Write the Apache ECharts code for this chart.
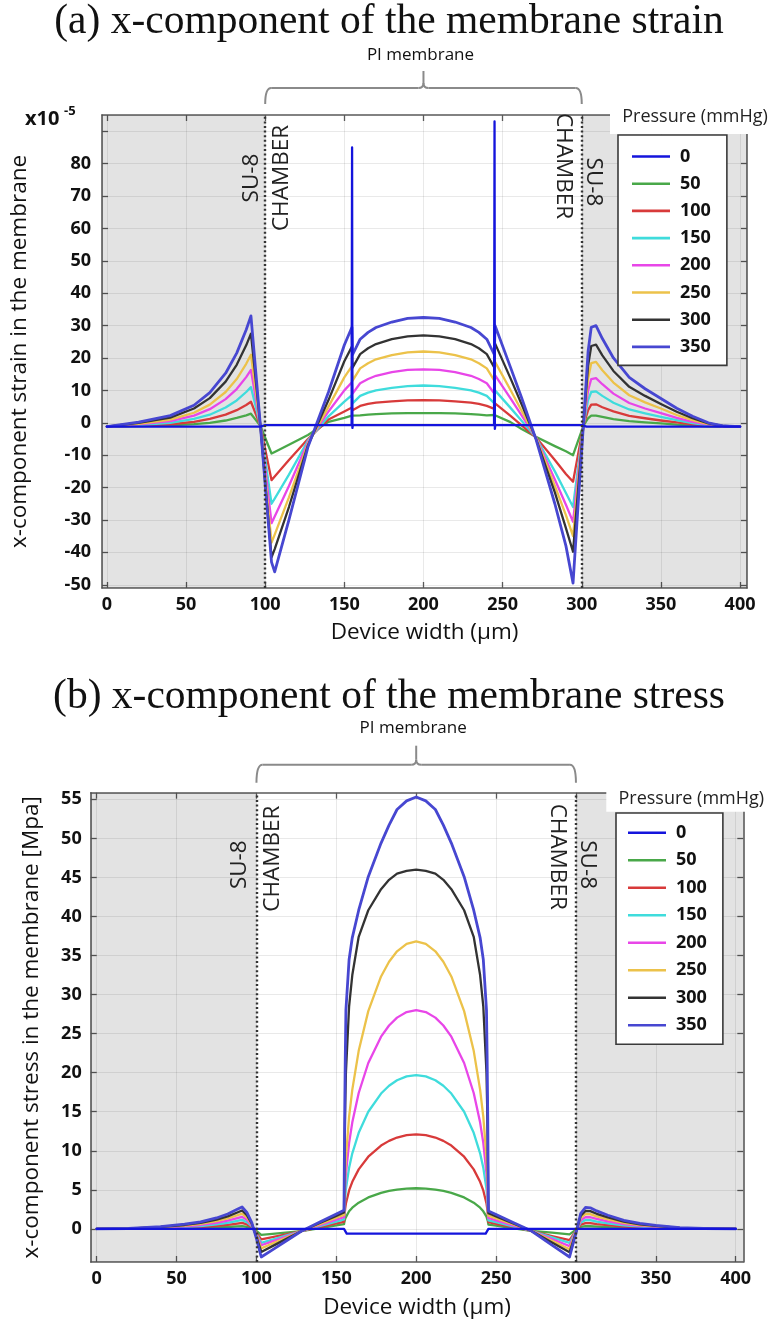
<!DOCTYPE html>
<html><head><meta charset="utf-8">
<script src="https://cdn.jsdelivr.net/npm/echarts@6/dist/echarts.min.js"></script>
<style>
html,body{margin:0;padding:0;background:#fff;}
#a{position:absolute;left:0;top:0;width:776px;height:655px;}
#b{position:absolute;left:0;top:655px;width:776px;height:669px;}
</style>
</head><body><div id="a"></div><div id="b"></div>
<script>
const pressureLabels = ['0','50','100','150','200','250','300','350'];
const lineColors = ['#1414dc','#49a849','#d83a3a','#3fdcdc','#e846e8','#ecc24a','#333333','#4747d1'];
const chamberEdges = [100, 300];
const xTicks = [0,50,100,150,200,250,300,350,400];
const strainTicks = [-50,-40,-30,-20,-10,0,10,20,30,40,50,60,70,80,90];
const strainLabels = [-50,-40,-30,-20,-10,0,10,20,30,40,50,60,70,80];
const stressTicks = [0,5,10,15,20,25,30,35,40,45,50,55];

// ---- (a) strain, x10^-5 ----
const strainX = [0,20,40,55,65,75,82,88,91,94,97,104,106,115,127,140,150,154.8,155.2,160,165,170,180,190,200,210,220,230,235,240,244.8,245.2,255,262,271,283,290,294.5,298,301,304,306,309,313,320,330,340,350,360,370,380,390,400];
const strainX0 = [0,97,100,154.6,154.9,155.1,155.4,244.6,244.9,245.1,245.4,300,303,400];
const strain0 = [-1.2,-1.2,-0.7,-0.7,85,-1.6,-0.7,-0.7,93,-1.9,-0.7,-0.7,-1.2,-1.2];
const strain50 = [-1.2,-1.0,-0.8,-0.4,0,0.7,1.5,2.3,2.8,0.9, -1,-9.5,-9.0,-6.8,-3.8,0.3,1.5,2.2,1.8,2.3, 2.5,2.7,2.9,3.0,3.0,3.0,2.9,2.7,2.5,2.3, 2.4,3.0,0.2,-1.9,-4.3,-7.2,-8.8,-10,-5.1,-1, 1.4,2.2,2.2,1.8,1.1,0.5,0.1,-0.2,-0.6,-0.85, -1.1,-1.2,-1.2];
const strain100 = [-1.2,-0.9,-0.45,0.3,1.2,2.5,3.9,5.5,6.5,2.8, -1,-17.7,-16.6,-11.5,-5,1,3.5,4.7,3.9,5.2, 5.8,6.2,6.6,6.9,7,6.9,6.6,6.2,5.8,5.2, 4.3,6,2.1,-0.8,-4.5,-11.5,-15.8,-18.2,-8.9,-1, 3.9,5.6,5.7,4.8,3.5,2.1,1.4,0.7,0.1,-0.5, -0.9,-1.2,-1.2];
const strain150 = [-1.2,-0.7,0,1.2,2.5,4.7,6.9,9.5,11,5, -1,-25,-23.4,-16,-5.5,2,6.5,8.5,6,8.3, 9.3,10,10.8,11.3,11.5,11.3,10.8,10,9.3,8.3, 6,10,4.6,0.6,-4.5,-15,-21.7,-26,-12.5,-1, 7.0,9.5,9.7,8.3,6.2,4.1,2.9,1.8,0.8,-0.1, -0.8,-1.1,-1.2];
const strain200 = [-1.2,-0.5,0.5,2.2,4.2,7.3,10.4,14.1,16.3,7.7, -1,-31,-28.9,-19.5,-6,3.5,10,12.5,9,12.2, 13.5,14.5,15.6,16.3,16.5,16.3,15.6,14.5,13.5,12.2, 9,14.7,7.5,2.3,-4.5,-17.5,-25.3,-30.6,-14.6,-1, 10.0,13.5,13.8,11.9,9.0,6.1,4.4,3.0,1.5,0.3, -0.6,-1.1,-1.2];
const strain250 = [-1.2,-0.3,1.0,3.1,5.6,9.5,13.5,18.2,21,10, -1,-37,-34.5,-23,-6.5,5,14,17.5,13,16.8, 18.4,19.6,20.9,21.7,22,21.7,20.9,19.6,18.4,16.8, 13,18.8,10.1,3.7,-4.6,-19.5,-28.5,-35,-16.6,-1, 13.6,18.4,18.8,16.2,12.4,8.5,6.3,4.4,2.4,0.8, -0.4,-1.1,-1.2];
const strain300 = [-1.2,-0.05,1.6,4.4,7.6,12.7,17.9,23.9,27.5,13.3, -1,-41.5,-39,-26,-7,7,19,23.5,17,21.2, 23,24.3,25.8,26.7,27,26.7,25.8,24.3,23,21.2, 17,24.5,13.7,5.7,-4.8,-21.5,-32.5,-39.8,-18.8,-1, 17.6,23.7,24.1,20.8,16.0,11.1,8.3,5.8,3.4,1.4, -0.2,-1.0,-1.2];
const strain350 = [-1.2,0.2,2.2,5.4,9.3,15.3,21.5,28.7,33,16, -1,-43,-46,-30,-7.5,9.5,24,29.5,21,25.8, 27.9,29.4,31.1,32.2,32.5,32.2,31.1,29.4,27.9,25.8, 21,30,17.1,7.7,-5,-25,-38,-49.5,-23,-1, 22,29.5,30,26,20,14,10.5,7.5,4.5,2, 0,-1,-1.2];

// ---- (b) stress, MPa ----
const stressX = [0,20,40,55,65,75,82,88,91,94,97,100,103,110,120,128,140,150,154.8,155.2,155.6,156,158,160,164,170,178,183,188,194,200,206,212,217,222,230,236,240,242,244,244.4,244.8,245.2,250,260,272,285,296,300,303,306,309,313,320,330,340,350,365,380,400];
const stressX0 = [0,154.8,156.5,243.5,245.2,400];
const stress0 = [0,0,-0.6,-0.6,0,0];
const stress50 = [0,0.01,0.04,0.08,0.11,0.18,0.24,0.31,0.35,0.26, 0.11,-0.27,-0.76,-0.63,-0.45,-0.3,0.1,0.44,0.6, 1.03,1.35,1.57,2.25,2.71,3.36,4.03,4.61,4.86,5.03,5.16,5.2, 5.16,5.03,4.86,4.61,4.03,3.36,2.71,2.25,1.57,1.35,1.03, 0.55,0.41,0.11,-0.25,-0.49,-0.7,-0.1, 0.25,0.34,0.34,0.29,0.22,0.14,0.09,0.06,0.02,0.01,0];
const stress100 = [0,0.01,0.08,0.16,0.24,0.38,0.51,0.68,0.76,0.57, 0.23,-0.47,-1.35,-1.06,-0.64,-0.3,0.24,0.69,0.9, 1.95,2.71,3.25,4.92,6.03,7.62,9.24,10.67,11.27,11.7,12.0,12.1, 12.0,11.7,11.27,10.67,9.24,7.62,6.03,4.92,3.25,2.71,1.95, 0.85,0.65,0.25,-0.25,-0.92,-1.45,-0.22, 0.54,0.74,0.73,0.62,0.47,0.3,0.19,0.12,0.04,0.01,0];
const stress150 = [0,0.02,0.12,0.25,0.37,0.57,0.78,1.03,1.15,0.86, 0.35,-0.63,-1.8,-1.38,-0.78,-0.3,0.37,0.93,1.2, 2.94,4.2,5.09,7.84,9.67,12.3,15.0,17.33,18.33,19.03,19.53,19.7, 19.53,19.03,18.33,17.33,15.0,12.3,9.67,7.84,5.09,4.2,2.94, 1.1,0.86,0.36,-0.25,-1.09,-1.8,-0.27, 0.82,1.13,1.11,0.94,0.72,0.45,0.29,0.18,0.06,0.02,0];
const stress200 = [0,0.03,0.17,0.33,0.5,0.77,1.05,1.38,1.54,1.16, 0.47,-0.74,-2.1,-1.6,-0.88,-0.3,0.51,1.18,1.5, 3.99,5.79,7.07,11.01,13.64,17.4,21.24,24.61,26.04,27.05,27.76,28, 27.76,27.05,26.04,24.61,21.24,17.4,13.64,11.01,7.07,5.79,3.99, 1.4,1.1,0.49,-0.25,-1.3,-2.2,-0.33, 1.1,1.51,1.49,1.27,0.96,0.6,0.39,0.25,0.08,0.03,0];
const stress250 = [0,0.035,0.21,0.42,0.63,0.98,1.33,1.75,1.96,1.47, 0.6,-0.88,-2.5,-1.88,-1.0,-0.3,0.64,1.42,1.8, 5.09,7.47,9.15,14.37,17.83,22.8,27.88,32.32,34.21,35.54,36.49,36.8, 36.49,35.54,34.21,32.32,27.88,22.8,17.83,14.37,9.15,7.47,5.09, 1.7,1.35,0.65,-0.25,-1.52,-2.6,-0.39, 1.4,1.93,1.89,1.61,1.23,0.77,0.49,0.32,0.1,0.03,0];
const stress300 = [0,0.04,0.25,0.5,0.76,1.18,1.6,2.1,2.35,1.76, 0.71,-1.03,-2.95,-2.21,-1.15,-0.3,0.78,1.67,2.1, 10,16,20,28.5,32.5,37.4,40.8,43.5,44.7,45.5,45.85,46, 45.85,45.5,44.7,43.5,40.8,37.4,32.5,28.5,20,16,10, 2.0,1.6,0.76,-0.25,-1.74,-3.0,-0.45, 1.68,2.31,2.27,1.93,1.47,0.92,0.59,0.38,0.13,0.04,0];
const stress350 = [0,0.05,0.3,0.6,0.9,1.4,1.9,2.5,2.8,2.1, 0.85,-1.26,-3.6,-2.68,-1.36,-0.3,0.91,1.92,2.4, 14,22,28,34.5,37.3,40.8,45.1,49.4,51.7,53.7,54.8,55.3, 54.8,53.7,51.7,49.4,45.1,40.8,37.3,34.5,28,22,14, 2.3,1.84,0.89,-0.25,-2.07,-3.6,-0.54, 2.0,2.75,2.7,2.3,1.75,1.1,0.7,0.45,0.15,0.05,0];

const FONT = 'Open Sans';
const AX = '#5a5a5a';

const cfgA = {
  el:'a', grid:{left:95,right:29,top:115,bottom:67},
  xMin:-3.1, xMax:404.4, yMin:-51, yMax:95,
  yTicks:strainTicks, yLabels:strainLabels,
  xs:[strainX0,strainX,strainX,strainX,strainX,strainX,strainX,strainX],
  ys:[strain0,strain50,strain100,strain150,strain200,strain250,strain300,strain350],
  yName:'x-component strain in the membrane', yNameGap:71, xNameGap:33, yLabelMargin:11,
  title:'(a) x-component of the membrane strain', titleY:22,
  legend:{left:618, top:135, padding:[12.5,16,9.5,14], gap:9.2},
  deco:{piDy:-60, brace:[-11,-27,-44], lsu:[-13.3,63], lch:[16.7,63], rch:[-18.3,51], rsu:[11.7,67], exp:true, presDy:2}
};
const cfgB = {
  el:'b', grid:{left:90.7,right:32.7,top:137.7,bottom:59},
  xMin:-3.76, xMax:404.76, yMin:-4.24, yMax:55.85,
  yTicks:stressTicks, yLabels:stressTicks,
  xs:[stressX0,stressX,stressX,stressX,stressX,stressX,stressX,stressX],
  ys:[stress0,stress50,stress100,stress150,stress200,stress250,stress300,stress350],
  yName:'x-component stress in the membrane [Mpa]', yNameGap:48, xNameGap:34, yLabelMargin:9,
  title:'(b) x-component of the membrane stress', titleY:42,
  legend:{left:616, top:158, padding:[10.8,16,10,12], gap:9.5},
  deco:{piDy:-65, brace:[-10,-28,-47], lsu:[-16.7,72], lch:[16.6,66], rch:[-18.4,64], rsu:[11.6,72], exp:false, presDy:6}
};

function buildOption(c) {
  const series = pressureLabels.map((p,k) => {
    const X = c.xs[k], Y = c.ys[k];
    if (X.length !== Y.length) throw new Error('length mismatch '+c.el+' '+p+' '+X.length+' vs '+Y.length);
    return {name:p, type:'line', xAxisIndex:0, yAxisIndex:0, symbol:'none', smooth:false, animation:false,
      data: X.map((x,i)=>[x,Y[i]]),
      lineStyle:{color:lineColors[k], width:k===7?2.8:2.3, cap:'round', join:'round'},
      itemStyle:{color:lineColors[k]}, z:k===0?4:3};
  });
  series.push({name:'bands', type:'line', data:[], xAxisIndex:0, yAxisIndex:0, z:1, silent:true, animation:false,
    markArea:{silent:true, animation:false, itemStyle:{color:'rgba(0,0,0,0.11)'},
      data:[[{xAxis:c.xMin},{xAxis:chamberEdges[0]}],[{xAxis:chamberEdges[1]},{xAxis:c.xMax}]]},
    markLine:{silent:true, animation:false, symbol:['none','none'], label:{show:false},
      lineStyle:{color:'#333', type:[2,2.6], width:2.4, cap:'butt'},
      data:[{xAxis:chamberEdges[0]},{xAxis:chamberEdges[1]}]}
  });
  const lab = {fontFamily:FONT, fontSize:18, fontWeight:'bold', color:'#111'};
  const al = {show:true, onZero:false, lineStyle:{color:AX, width:1.6}};
  return {
    animation:false,
    textStyle:{fontFamily:FONT},
    grid:{left:c.grid.left, right:c.grid.right, top:c.grid.top, bottom:c.grid.bottom, containLabel:false},
    xAxis:[
      {type:'value', position:'bottom', min:c.xMin, max:c.xMax,
       axisLine:al, axisTick:{show:true, inside:true, length:6, customValues:xTicks, lineStyle:{color:AX,width:1.3}},
       axisLabel:Object.assign({show:true, customValues:xTicks, margin:8}, lab),
       splitLine:{show:true, lineStyle:{color:'rgba(0,0,0,0.085)', width:1}},
       name:'Device width (µm)', nameLocation:'middle', nameGap:c.xNameGap,
       nameTextStyle:{fontFamily:FONT, fontSize:22.5, color:'#111'}},
      {type:'value', position:'top', min:c.xMin, max:c.xMax,
       axisLine:al, axisTick:{show:true, inside:true, length:6, customValues:xTicks, lineStyle:{color:AX,width:1.3}},
       axisLabel:{show:false}, splitLine:{show:false}}
    ],
    yAxis:[
      {type:'value', position:'left', min:c.yMin, max:c.yMax,
       axisLine:al, axisTick:{show:true, inside:true, length:6, customValues:c.yTicks, lineStyle:{color:AX,width:1.3}},
       axisLabel:Object.assign({show:true, customValues:c.yLabels, margin:c.yLabelMargin}, lab),
       splitLine:{show:true, lineStyle:{color:'rgba(0,0,0,0.085)', width:1}},
       name:c.yName, nameLocation:'middle', nameGap:c.yNameGap, nameRotate:90,
       nameTextStyle:{fontFamily:FONT, fontSize:22.5, color:'#111'}},
      {type:'value', position:'right', min:c.yMin, max:c.yMax,
       axisLine:al, axisTick:{show:true, inside:true, length:6, customValues:c.yTicks, lineStyle:{color:AX,width:1.3}},
       axisLabel:{show:false}, splitLine:{show:false}}
    ],
    legend:{show:true, orient:'vertical', left:c.legend.left, top:c.legend.top, data:pressureLabels,
      icon:'rect', itemWidth:38, itemHeight:2.6,
      backgroundColor:'#fff', borderColor:'#3a3a3a', borderWidth:1.6, borderRadius:0,
      padding:c.legend.padding, itemGap:c.legend.gap, selectedMode:false, z:60,
      textStyle:{fontFamily:FONT, fontSize:18, fontWeight:'bold', color:'#111', padding:[0,0,0,5]}},
    series
  };
}

function decorate(chart, c) {
  const P = (x,y) => chart.convertToPixel({gridIndex:0}, [x,y]);
  const top = P(0, c.yMax)[1];
  const right = P(c.xMax, 0)[0];
  const pl = P(c.xMin, 0)[0];
  const xL = P(chamberEdges[0],0)[0], xM = P(200,0)[0], xR = P(chamberEdges[1],0)[0];
  const d = c.deco;
  const T = (x,y,text,font,o) => { o = o||{}; return {type:'text', x:x, y:y, rotation:o.rot||0, z:o.z||100, silent:true,
     style:{text:text, x:0, y:0, font:font, fill:o.fill||'#1a1a1a', align:o.align||'center', verticalAlign:'middle',
            textAlign:o.align||'center', textVerticalAlign:'middle'}}; };
  const els = [];
  els.push(T(389, c.titleY, c.title, '41.5px "Liberation Serif"', {fill:'#111'}));
  els.push(T(xM-3, top+d.piDy, 'PI membrane', '17px "Open Sans"', {fill:'#111'}));
  const yb = top+d.brace[0], yt = top+d.brace[1], yp = top+d.brace[2];
  const bs = {stroke:'#8a8a8a', lineWidth:2, fill:null};
  const seg = (shape, type) => ({type:type, shape:shape, style:bs, z:100, silent:true});
  els.push(seg({x1:xL,y1:yb,x2:xL+6,y2:yt,cpx1:xL,cpy1:yt}, 'bezierCurve'));
  els.push(seg({x1:xL+6,y1:yt,x2:xM-5,y2:yt}, 'line'));
  els.push(seg({x1:xM-5,y1:yt,x2:xM,y2:yt-5,cpx1:xM,cpy1:yt}, 'bezierCurve'));
  els.push(seg({x1:xM,y1:yt-5,x2:xM,y2:yp}, 'line'));
  els.push(seg({x1:xM+5,y1:yt,x2:xM,y2:yt-5,cpx1:xM,cpy1:yt}, 'bezierCurve'));
  els.push(seg({x1:xM+5,y1:yt,x2:xR-6,y2:yt}, 'line'));
  els.push(seg({x1:xR-6,y1:yt,x2:xR,y2:yb,cpx1:xR,cpy1:yt}, 'bezierCurve'));
  const vf = '22.5px "Open Sans"';
  els.push(T(xL+d.lsu[0], top+d.lsu[1], 'SU-8', vf, {rot:Math.PI/2, fill:'#222'}));
  els.push(T(xL+d.lch[0], top+d.lch[1], 'CHAMBER', vf, {rot:Math.PI/2, fill:'#222'}));
  els.push(T(xR+d.rch[0], top+d.rch[1], 'CHAMBER', vf, {rot:-Math.PI/2, fill:'#222'}));
  els.push(T(xR+d.rsu[0], top+d.rsu[1], 'SU-8', vf, {rot:-Math.PI/2, fill:'#222'}));
  els.push({type:'rect', shape:{x:right-137, y:top-15, width:776-(right-137), height:34}, style:{fill:'#fff'}, z:50, silent:true});
  els.push(T(right-52, top+d.presDy, 'Pressure (mmHg)', '18px "Open Sans"', {fill:'#222'}));
  if (d.exp) {
    els.push(T(pl-77, top+4, 'x10', 'bold 20px "Open Sans"', {align:'left', fill:'#111'}));
    els.push(T(pl-38, top-4, '-5', 'bold 13px "Open Sans"', {align:'left', fill:'#111'}));
  }
  chart.setOption({graphic:{elements:els}});
}

[cfgA, cfgB].forEach(c => {
  const chart = echarts.init(document.getElementById(c.el), null, {renderer:'canvas'});
  chart.setOption(buildOption(c));
  decorate(chart, c);
});
</script>
</body></html>
